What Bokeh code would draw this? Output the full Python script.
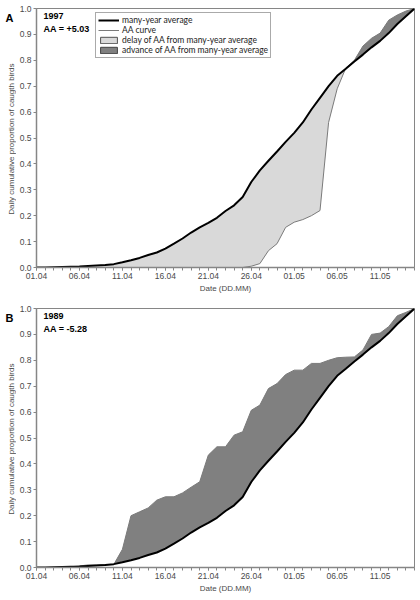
import math
from bokeh.plotting import figure
from bokeh.models import (Range1d, FixedTicker, Label, Legend, LegendItem,
                          ColumnDataSource, NumeralTickFormatter)
from bokeh.layouts import column, row
from bokeh.embed import file_html
from bokeh.resources import INLINE

# ---------------- data ----------------
dates = ["01.04", "02.04", "03.04", "04.04", "05.04", "06.04", "07.04", "08.04", "09.04", "10.04",
         "11.04", "12.04", "13.04", "14.04", "15.04", "16.04", "17.04", "18.04", "19.04", "20.04",
         "21.04", "22.04", "23.04", "24.04", "25.04", "26.04", "27.04", "28.04", "29.04", "30.04",
         "01.05", "02.05", "03.05", "04.05", "05.05", "06.05", "07.05", "08.05", "09.05", "10.05",
         "11.05", "12.05", "13.05", "14.05", "15.05"]
tick_labels = ["01.04", "06.04", "11.04", "16.04", "21.04", "26.04", "01.05", "06.05", "11.05"]

many_year_avg = [0.000, 0.000, 0.001, 0.002, 0.003, 0.004, 0.006, 0.008, 0.010, 0.013,
                 0.020, 0.028, 0.037, 0.048, 0.058, 0.073, 0.092, 0.112, 0.135, 0.155,
                 0.172, 0.192, 0.218, 0.240, 0.272, 0.330, 0.375, 0.412, 0.448, 0.485,
                 0.520, 0.560, 0.610, 0.655, 0.700, 0.740, 0.767, 0.795, 0.822, 0.850,
                 0.875, 0.905, 0.940, 0.970, 1.000]

aa_1997 = [0.000, 0.000, 0.000, 0.000, 0.000, 0.000, 0.000, 0.000, 0.000, 0.000,
           0.000, 0.000, 0.000, 0.000, 0.000, 0.000, 0.000, 0.000, 0.000, 0.000,
           0.000, 0.000, 0.000, 0.000, 0.000, 0.005, 0.015, 0.065, 0.092, 0.155,
           0.175, 0.185, 0.200, 0.220, 0.560, 0.690, 0.770, 0.800, 0.855, 0.885,
           0.905, 0.955, 0.975, 0.990, 1.000]

aa_1989 = [0.000, 0.000, 0.001, 0.002, 0.003, 0.006, 0.010, 0.010, 0.011, 0.012,
           0.070, 0.200, 0.215, 0.230, 0.260, 0.273, 0.273, 0.288, 0.310, 0.331,
           0.434, 0.466, 0.466, 0.511, 0.524, 0.607, 0.627, 0.691, 0.710, 0.745,
           0.762, 0.762, 0.788, 0.788, 0.800, 0.810, 0.812, 0.813, 0.840, 0.900,
           0.905, 0.930, 0.972, 0.985, 1.000]

panels = [
    dict(letter="A", year="1997", aa_text="AA = +5.03", aa=aa_1997, legend=True),
    dict(letter="B", year="1989", aa_text="AA = -5.28", aa=aa_1989, legend=False),
]
y_title = "Daily cumulative  proportion of caugth birds"
x_title = "Date (DD.MM)"

AXIS_GREY = "#868686"
TEXT_GREY = "#4a4a4a"
LIGHT_FILL = "#d9d9d9"
DARK_FILL = "#808080"
AA_LINE = "#7a7a7a"

FRAME_W, FRAME_H = 378, 259
SIDE_W = 16
TOP_B = 8


def split_fill(avg, aa):
    xs, base, lo, hi = [], [], [], []
    n = len(avg)
    for i in range(n):
        xs.append(i)
        base.append(avg[i])
        lo.append(min(aa[i], avg[i]))
        hi.append(max(aa[i], avg[i]))
        if i < n - 1:
            d0 = aa[i] - avg[i]
            d1 = aa[i + 1] - avg[i + 1]
            if d0 * d1 < 0:
                t = d0 / (d0 - d1)
                yc = avg[i] + t * (avg[i + 1] - avg[i])
                xs.append(i + t)
                base.append(yc)
                lo.append(yc)
                hi.append(yc)
    return xs, base, lo, hi


def make_side(cfg, bottom_border):
    s = figure(frame_width=SIDE_W, frame_height=FRAME_H,
               x_range=Range1d(0, 1), y_range=Range1d(0, 1),
               output_backend="svg", toolbar_location=None,
               x_axis_location=None, y_axis_location=None,
               min_border_left=0, min_border_right=0,
               min_border_top=TOP_B, min_border_bottom=bottom_border)
    s.outline_line_color = None
    s.background_fill_color = "white"
    s.border_fill_color = "white"
    s.xgrid.visible = False
    s.ygrid.visible = False
    s.add_layout(Label(x=5, y=FRAME_H - 3, x_units="screen", y_units="screen",
                       text=cfg["letter"], text_align="left", text_baseline="top",
                       text_font="Liberation Sans", text_font_style="bold",
                       text_font_size="11px", text_color="black"))
    s.add_layout(Label(x=11, y=FRAME_H / 2, x_units="screen", y_units="screen",
                       text=y_title, angle=math.pi / 2, text_align="center",
                       text_baseline="middle", text_font="Liberation Sans",
                       text_font_size="8px", text_color=TEXT_GREY))
    return s


def make_panel(cfg, bottom_border):
    n = len(dates)
    p = figure(frame_width=FRAME_W, frame_height=FRAME_H,
               x_range=Range1d(0, n - 1), y_range=Range1d(0, 1),
               output_backend="svg", toolbar_location=None,
               min_border_left=17, min_border_right=5,
               min_border_top=TOP_B, min_border_bottom=bottom_border)
    p.background_fill_color = "white"
    p.border_fill_color = "white"
    p.outline_line_color = AXIS_GREY
    p.outline_line_width = 1
    p.xgrid.visible = False
    p.ygrid.visible = False

    x = list(range(n))
    xs, base, lo, hi = split_fill(many_year_avg, cfg["aa"])
    fills = ColumnDataSource(dict(x=xs, base=base, lo=lo, hi=hi))
    p.varea(x="x", y1="base", y2="lo", source=fills, fill_color=LIGHT_FILL)
    p.varea(x="x", y1="base", y2="hi", source=fills, fill_color=DARK_FILL)
    r_aa = p.line(x, cfg["aa"], line_color=AA_LINE, line_width=1)
    r_avg = p.line(x, many_year_avg, line_color="black", line_width=2)

    # axes
    tick_pos = [dates.index(t) for t in tick_labels]
    xa = p.xaxis[0]
    xa.ticker = FixedTicker(ticks=tick_pos, minor_ticks=x)
    xa.major_label_overrides = {pos: lab for pos, lab in zip(tick_pos, tick_labels)}
    xa.axis_label = x_title
    ya = p.yaxis[0]
    ya.ticker = FixedTicker(ticks=[k / 10 for k in range(11)])
    ya.formatter = NumeralTickFormatter(format="0.0")
    for ax in (xa, ya):
        ax.axis_line_color = AXIS_GREY
        ax.axis_line_width = 1.5
        ax.major_tick_line_color = AXIS_GREY
        ax.minor_tick_line_color = AXIS_GREY
        ax.major_tick_in = 0
        ax.major_tick_out = 3
        ax.minor_tick_in = 0
        ax.minor_tick_out = 3
        ax.major_label_text_font = "Liberation Sans"
        ax.major_label_text_color = TEXT_GREY
        ax.major_label_standoff = 2
        ax.axis_label_text_font = "Liberation Sans"
        ax.axis_label_text_font_style = "normal"
        ax.axis_label_text_color = TEXT_GREY
        ax.axis_label_text_font_size = "8px"
        ax.axis_label_standoff = 2
    xa.major_label_text_font_size = "8.5px"
    ya.major_label_text_font_size = "8.5px"
    ya.minor_tick_out = 0

    p.add_layout(Label(x=7, y=FRAME_H - 4, x_units="screen", y_units="screen",
                       text=cfg["year"], text_align="left", text_baseline="top",
                       text_font="Liberation Sans", text_font_style="bold",
                       text_font_size="9px", text_color="black"))
    p.add_layout(Label(x=7, y=FRAME_H - 15, x_units="screen", y_units="screen",
                       text=cfg["aa_text"], text_align="left", text_baseline="top",
                       text_font="Liberation Sans", text_font_style="bold",
                       text_font_size="9px", text_color="black"))

    if cfg["legend"]:
        # hidden patches, used only to draw outlined legend swatches
        poly_delay = p.patch(xs + xs[::-1], base + lo[::-1], fill_color=LIGHT_FILL,
                             line_color="#505050", line_width=1, visible=False)
        poly_adv = p.patch(xs + xs[::-1], base + hi[::-1], fill_color=DARK_FILL,
                           line_color="#404040", line_width=1, visible=False)
        legend = Legend(items=[
            LegendItem(label="many-year average", renderers=[r_avg]),
            LegendItem(label="AA curve", renderers=[r_aa]),
            LegendItem(label="delay of AA from many-year average", renderers=[poly_delay]),
            LegendItem(label="advance of AA from many-year average", renderers=[poly_adv]),
        ], location=(59, 209))
        legend.click_policy = "none"
        legend.border_line_color = "#555555"
        legend.border_line_width = 1
        legend.background_fill_color = "white"
        legend.background_fill_alpha = 1
        legend.padding = 2
        legend.spacing = 0
        legend.margin = 0
        legend.label_standoff = 3
        legend.glyph_width = 21
        legend.glyph_height = 8
        legend.label_height = 9
        legend.label_text_font = "Lato"
        legend.label_text_font_size = "8.5px"
        legend.label_text_color = "#222222"
        legend.label_text_baseline = "middle"
        p.add_layout(legend)
    return p


BOT_A, BOT_B = 33, 30
pa = make_panel(panels[0], BOT_A)
pb = make_panel(panels[1], BOT_B)
sa = make_side(panels[0], BOT_A)
sb = make_side(panels[1], BOT_B)
layout = column(row(sa, pa, spacing=0), row(sb, pb, spacing=0), spacing=0)

open("out.html", "w").write(file_html(layout, INLINE))
